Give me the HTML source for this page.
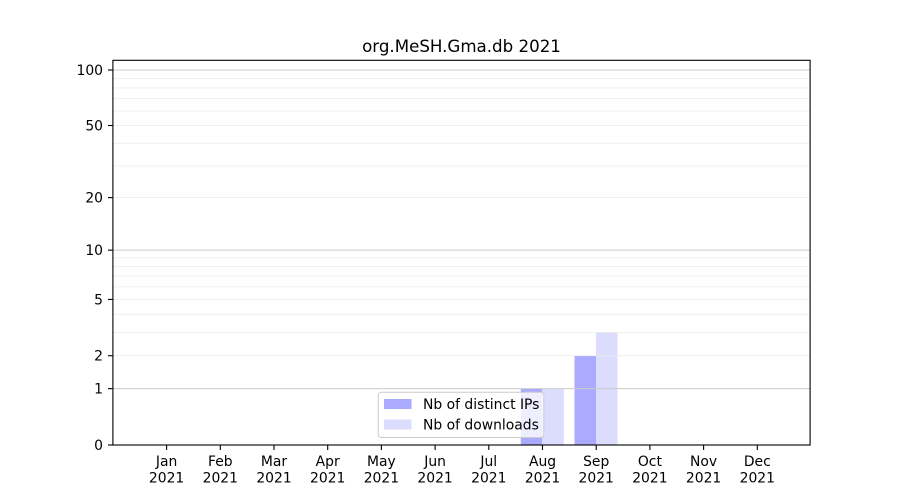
<!DOCTYPE html>
<html>
<head>
<meta charset="utf-8">
<style>
  html, body { margin: 0; padding: 0; background: #ffffff; }
  svg { display: block; }
  text { font-family: "DejaVu Sans", "Liberation Sans", sans-serif; fill: #000; }
</style>
</head>
<body>
<svg width="900" height="500" viewBox="0 0 900 500" xmlns="http://www.w3.org/2000/svg">
  <rect x="0" y="0" width="900" height="500" fill="#ffffff"/>

  <!-- Bars -->
  <g>
    <!-- Aug -->
    <rect x="520.8" y="388.68" width="21.5" height="56.32" fill="#aaaaff"/>
    <rect x="542.3" y="388.68" width="21.5" height="56.32" fill="#dcdcff"/>
    <!-- Sep -->
    <rect x="574.5" y="355.73" width="21.5" height="89.27" fill="#aaaaff"/>
    <rect x="596.0" y="332.36" width="21.5" height="112.64" fill="#dcdcff"/>
  </g>

  <!-- Minor grid -->
  <g stroke="#ebebeb" stroke-width="0.8">
    <line x1="113" x2="810" y1="355.73" y2="355.73"/>
    <line x1="113" x2="810" y1="332.36" y2="332.36"/>
    <line x1="113" x2="810" y1="314.22" y2="314.22"/>
    <line x1="113" x2="810" y1="299.41" y2="299.41"/>
    <line x1="113" x2="810" y1="286.89" y2="286.89"/>
    <line x1="113" x2="810" y1="276.03" y2="276.03"/>
    <line x1="113" x2="810" y1="266.47" y2="266.47"/>
    <line x1="113" x2="810" y1="257.90" y2="257.90"/>
    <line x1="113" x2="810" y1="197.62" y2="197.62"/>
    <line x1="113" x2="810" y1="165.97" y2="165.97"/>
    <line x1="113" x2="810" y1="143.26" y2="143.26"/>
    <line x1="113" x2="810" y1="125.52" y2="125.52"/>
    <line x1="113" x2="810" y1="110.97" y2="110.97"/>
    <line x1="113" x2="810" y1="98.63" y2="98.63"/>
    <line x1="113" x2="810" y1="87.93" y2="87.93"/>
    <line x1="113" x2="810" y1="78.47" y2="78.47"/>
  </g>
  <!-- Major grid -->
  <g stroke="#cccccc" stroke-width="1">
    <line x1="113" x2="810" y1="388.68" y2="388.68"/>
    <line x1="113" x2="810" y1="250.16" y2="250.16"/>
    <line x1="113" x2="810" y1="70" y2="70"/>
  </g>

  <!-- Axes frame -->
  <rect x="112.9" y="60.3" width="697.2" height="384.7" fill="none" stroke="#000" stroke-width="1.1"/>

  <!-- Y ticks -->
  <g stroke="#000" stroke-width="1.1">
    <line x1="108" x2="113" y1="445" y2="445"/>
    <line x1="108" x2="113" y1="388.68" y2="388.68"/>
    <line x1="108" x2="113" y1="355.73" y2="355.73"/>
    <line x1="108" x2="113" y1="299.41" y2="299.41"/>
    <line x1="108" x2="113" y1="250.16" y2="250.16"/>
    <line x1="108" x2="113" y1="197.62" y2="197.62"/>
    <line x1="108" x2="113" y1="125.52" y2="125.52"/>
    <line x1="108" x2="113" y1="70" y2="70"/>
  </g>
  <g font-size="13.9" text-anchor="end">
    <text x="103" y="450">0</text>
    <text x="103" y="393.7">1</text>
    <text x="103" y="360.7">2</text>
    <text x="103" y="304.4">5</text>
    <text x="103" y="255.2">10</text>
    <text x="103" y="202.6">20</text>
    <text x="103" y="130.5">50</text>
    <text x="103" y="75">100</text>
  </g>

  <!-- X ticks -->
  <g stroke="#000" stroke-width="1.1">
    <line x1="166.6" x2="166.6" y1="445" y2="450"/>
    <line x1="220.3" x2="220.3" y1="445" y2="450"/>
    <line x1="274.0" x2="274.0" y1="445" y2="450"/>
    <line x1="327.7" x2="327.7" y1="445" y2="450"/>
    <line x1="381.4" x2="381.4" y1="445" y2="450"/>
    <line x1="435.1" x2="435.1" y1="445" y2="450"/>
    <line x1="488.8" x2="488.8" y1="445" y2="450"/>
    <line x1="542.5" x2="542.5" y1="445" y2="450"/>
    <line x1="596.2" x2="596.2" y1="445" y2="450"/>
    <line x1="649.9" x2="649.9" y1="445" y2="450"/>
    <line x1="703.6" x2="703.6" y1="445" y2="450"/>
    <line x1="757.3" x2="757.3" y1="445" y2="450"/>
  </g>
  <g font-size="13.9" text-anchor="middle">
    <text x="166.6" y="466">Jan</text><text x="166.6" y="482.5">2021</text>
    <text x="220.3" y="466">Feb</text><text x="220.3" y="482.5">2021</text>
    <text x="274.0" y="466">Mar</text><text x="274.0" y="482.5">2021</text>
    <text x="327.7" y="466">Apr</text><text x="327.7" y="482.5">2021</text>
    <text x="381.4" y="466">May</text><text x="381.4" y="482.5">2021</text>
    <text x="435.1" y="466">Jun</text><text x="435.1" y="482.5">2021</text>
    <text x="488.8" y="466">Jul</text><text x="488.8" y="482.5">2021</text>
    <text x="542.5" y="466">Aug</text><text x="542.5" y="482.5">2021</text>
    <text x="596.2" y="466">Sep</text><text x="596.2" y="482.5">2021</text>
    <text x="649.9" y="466">Oct</text><text x="649.9" y="482.5">2021</text>
    <text x="703.6" y="466">Nov</text><text x="703.6" y="482.5">2021</text>
    <text x="757.3" y="466">Dec</text><text x="757.3" y="482.5">2021</text>
  </g>

  <!-- Title -->
  <text x="461.5" y="52" font-size="16.67" text-anchor="middle">org.MeSH.Gma.db 2021</text>

  <!-- Legend -->
  <rect x="378.3" y="392.3" width="165.5" height="45.2" rx="3" ry="3" fill="#ffffff" fill-opacity="0.8" stroke="#cccccc" stroke-width="1"/>
  <rect x="384" y="399" width="27.5" height="10" fill="#aaaaff"/>
  <rect x="384" y="419.5" width="27.5" height="10" fill="#dcdcff"/>
  <g font-size="13.9">
    <text x="423" y="409">Nb of distinct IPs</text>
    <text x="423" y="429.5">Nb of downloads</text>
  </g>
</svg>
</body>
</html>
